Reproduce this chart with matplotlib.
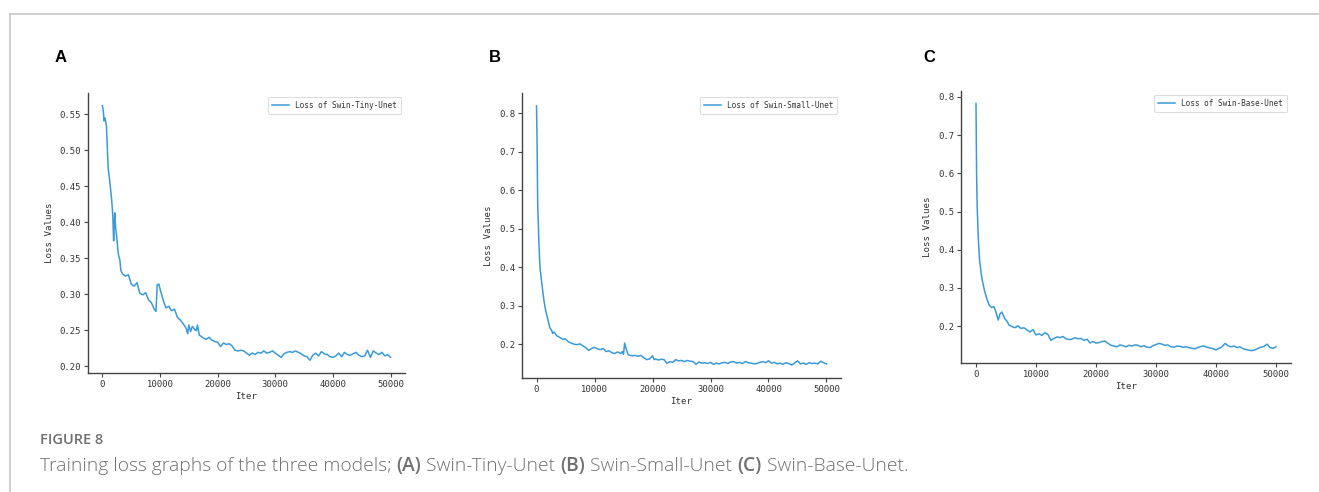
import matplotlib
matplotlib.use("Agg")
import matplotlib.pyplot as plt
from matplotlib.lines import Line2D

# ---------------- data ----------------
iters_a = [0, 150, 300, 450, 700, 1000, 1300, 1600, 1800, 1950, 2050, 2150, 2300, 2500, 2700, 2850,
           3000, 3200, 3500, 4000, 4500, 5000, 5500, 6000, 6500, 7000, 7500, 8000, 8500, 9000, 9300,
           9500, 9800, 10000, 10500, 11000, 11500, 12000, 12500, 13000, 13500, 14000, 14500, 14800,
           15000, 15300, 15600, 16000, 16300, 16500, 16800, 17000, 17500, 18000, 18500, 19000, 19500,
           20000, 20500, 21000, 21500, 22000, 22500, 23000, 23500, 24000, 24500, 25000, 25500, 26000,
           26500, 27000, 27500, 28000, 28500, 29000, 29500, 30000, 30500, 31000, 31500, 32000, 32500,
           33000, 33500, 34000, 34500, 35000, 35500, 36000, 36500, 37000, 37500, 38000, 38500, 39000,
           39500, 40000, 40500, 41000, 41500, 42000, 42500, 43000, 43500, 44000, 44500, 45000, 45500,
           46000, 46500, 47000, 47500, 48000, 48500, 49000, 49500, 50000]
loss_a = [0.562, 0.555, 0.541, 0.545, 0.534, 0.475, 0.455, 0.432, 0.410, 0.374, 0.395, 0.413, 0.392, 0.378, 0.360, 0.352,
          0.349, 0.333, 0.328, 0.325, 0.327, 0.314, 0.311, 0.316, 0.301, 0.299, 0.302, 0.292, 0.288, 0.279, 0.276,
          0.313, 0.314, 0.307, 0.293, 0.281, 0.283, 0.277, 0.279, 0.268, 0.264, 0.259, 0.253, 0.245,
          0.257, 0.248, 0.255, 0.251, 0.249, 0.257, 0.243, 0.242, 0.239, 0.237, 0.240, 0.236, 0.234,
          0.233, 0.227, 0.232, 0.230, 0.231, 0.228, 0.222, 0.221, 0.222, 0.221, 0.218, 0.215, 0.218,
          0.216, 0.219, 0.218, 0.221, 0.218, 0.219, 0.221, 0.218, 0.215, 0.212, 0.217, 0.219, 0.220,
          0.219, 0.221, 0.219, 0.217, 0.214, 0.213, 0.208, 0.215, 0.218, 0.214, 0.220, 0.217, 0.216,
          0.213, 0.212, 0.214, 0.218, 0.213, 0.219, 0.216, 0.215, 0.217, 0.219, 0.215, 0.213, 0.214,
          0.222, 0.212, 0.221, 0.218, 0.216, 0.219, 0.214, 0.216, 0.212]

iters_b = [0, 100, 200, 400, 600, 800, 1000, 1300, 1600, 2000, 2300, 2600, 2800, 3000, 3500, 4000, 4500,
           5000, 5500, 6000, 6500, 7000, 7500, 8000, 8500, 9000, 9500, 10000, 10500, 11000, 11500, 12000,
           12500, 13000, 13500, 14000, 14500, 14800, 15000, 15200, 15500, 15800, 16000, 16500, 17000, 17500,
           18000, 18500, 19000, 19500, 20000, 20300, 20500, 21000, 21500, 22000, 22500, 23000, 23500, 24000,
           24500, 25000, 25500, 26000, 26500, 27000, 27500, 28000, 28500, 29000, 29500, 30000, 30500, 31000,
           31500, 32000, 32500, 33000, 33500, 34000, 34500, 35000, 35500, 36000, 36500, 37000, 37500, 38000,
           38500, 39000, 39500, 40000, 40500, 41000, 41500, 42000, 42500, 43000, 43500, 44000, 44500, 45000,
           45500, 46000, 46500, 47000, 47500, 48000, 48500, 49000, 49500, 50000]
loss_b = [0.819, 0.727, 0.571, 0.468, 0.399, 0.373, 0.347, 0.312, 0.286, 0.262, 0.243, 0.236, 0.228, 0.232, 0.222, 0.218, 0.213,
          0.214, 0.206, 0.203, 0.200, 0.199, 0.201, 0.196, 0.191, 0.184, 0.189, 0.192, 0.188, 0.186, 0.189, 0.181,
          0.183, 0.178, 0.176, 0.180, 0.176, 0.181, 0.174, 0.203, 0.186, 0.173, 0.172, 0.170, 0.171, 0.169,
          0.171, 0.165, 0.160, 0.162, 0.170, 0.160, 0.162, 0.159, 0.161, 0.160, 0.150, 0.155, 0.153, 0.160,
          0.157, 0.158, 0.155, 0.158, 0.156, 0.155, 0.148, 0.154, 0.151, 0.152, 0.150, 0.153, 0.148, 0.151,
          0.149, 0.152, 0.153, 0.150, 0.154, 0.155, 0.151, 0.153, 0.150, 0.155, 0.152, 0.151, 0.149, 0.150,
          0.153, 0.155, 0.152, 0.157, 0.151, 0.153, 0.149, 0.151, 0.148, 0.152, 0.150, 0.146, 0.151, 0.157,
          0.149, 0.151, 0.148, 0.152, 0.150, 0.151, 0.149, 0.156, 0.152, 0.149]

iters_c = [0, 100, 200, 400, 600, 800, 1000, 1400, 1800, 2200, 2600, 3000, 3300, 3700, 4000, 4300, 4800,
           5200, 5500, 6000, 6500, 7000, 7500, 8000, 8500, 9000, 9500, 10000, 10500, 11000, 11500, 12000,
           12500, 13000, 13500, 14000, 14500, 15000, 15500, 16000, 16500, 17000, 17500, 18000, 18500, 19000,
           19500, 20000, 20500, 21000, 21500, 22000, 22500, 23000, 23500, 24000, 24500, 25000, 25500, 26000,
           26500, 27000, 27500, 28000, 28500, 29000, 29500, 30000, 30500, 31000, 31500, 32000, 32500, 33000,
           33500, 34000, 34500, 35000, 35500, 36000, 36500, 37000, 37500, 38000, 38500, 39000, 39500, 40000,
           40500, 41000, 41500, 42000, 42500, 43000, 43500, 44000, 44500, 45000, 45500, 46000, 46500, 47000,
           47500, 48000, 48500, 49000, 49500, 50000]
loss_c = [0.783, 0.598, 0.511, 0.424, 0.372, 0.346, 0.324, 0.294, 0.272, 0.255, 0.249, 0.251, 0.238, 0.216, 0.232, 0.237, 0.220,
          0.212, 0.203, 0.199, 0.196, 0.201, 0.194, 0.196, 0.190, 0.185, 0.191, 0.177, 0.180, 0.176, 0.183, 0.178,
          0.163, 0.168, 0.172, 0.170, 0.173, 0.167, 0.165, 0.166, 0.170, 0.167, 0.168, 0.163, 0.166, 0.156,
          0.160, 0.156, 0.157, 0.160, 0.161, 0.155, 0.150, 0.148, 0.146, 0.151, 0.149, 0.146, 0.150, 0.148,
          0.151, 0.150, 0.146, 0.149, 0.145, 0.144, 0.149, 0.152, 0.155, 0.153, 0.150, 0.151, 0.146, 0.145,
          0.148, 0.147, 0.145, 0.146, 0.144, 0.142, 0.141, 0.144, 0.147, 0.148, 0.145, 0.143, 0.141, 0.138,
          0.142, 0.146, 0.155, 0.149, 0.146, 0.148, 0.144, 0.146, 0.141, 0.139, 0.137, 0.136, 0.138, 0.142,
          0.145, 0.147, 0.153, 0.144, 0.142, 0.146]

panel_letters = ["A", "B", "C"]
legend_labels = ["Loss of Swin-Tiny-Unet", "Loss of Swin-Small-Unet", "Loss of Swin-Base-Unet"]
x_label = "Iter"
y_label = "Loss Values"
caption_title = "FIGURE 8"
caption_parts = [("Training loss graphs of the three models; ", "light"), ("(A)", "semibold"),
                 (" Swin-Tiny-Unet ", "light"), ("(B)", "semibold"), (" Swin-Small-Unet ", "light"),
                 ("(C)", "semibold"), (" Swin-Base-Unet.", "light")]

# ---------------- style ----------------
W, H = 1319, 492
fig = plt.figure(figsize=(W / 100, H / 100), dpi=100)
fig.patch.set_facecolor("white")

line_color = "#3a9ad9"
mono = ["DejaVu Sans Mono"]

# axes boxes in pixels: left, right, top, bottom
boxes = [(88, 405, 93, 373), (522, 841, 93, 378), (961, 1291, 91, 363)]
letter_pos = [(61, 57), (495, 57), (929, 57)]
series = [(iters_a, loss_a), (iters_b, loss_b), (iters_c, loss_c)]

for i, ((l, r, t, b), (xs, ys)) in enumerate(zip(boxes, series)):
    ax = fig.add_axes([l / W, 1 - b / H, (r - l) / W, (b - t) / H])
    ax.plot(xs, ys, color=line_color, lw=1.1, label=legend_labels[i])
    for s in ("top", "right"):
        ax.spines[s].set_visible(False)
    for s in ("left", "bottom"):
        ax.spines[s].set_color("#444444")
        ax.spines[s].set_linewidth(1.0)
    ax.tick_params(axis="both", labelsize=6.4, colors="#444444", labelcolor="#333333",
                   length=3, width=0.8, pad=2)
    ax.set_xticks([0, 10000, 20000, 30000, 40000, 50000])
    ax.set_xticklabels(["0", "10000", "20000", "30000", "40000", "50000"], family=mono)
    ax.set_xlabel(x_label, fontsize=6.6, family=mono, color="#333333", labelpad=2)
    ax.set_ylabel(y_label, fontsize=6.6, family=mono, color="#333333", labelpad=4)
    if i == 0:
        ax.yaxis.set_major_formatter(matplotlib.ticker.FormatStrFormatter("%.2f"))
    else:
        ax.yaxis.set_major_formatter(matplotlib.ticker.FormatStrFormatter("%.1f"))
    for lab in ax.get_yticklabels():
        lab.set_family(mono)
    leg = ax.legend(loc="upper right", prop={"family": mono, "size": 5.6}, frameon=True,
                    handlelength=2.2, borderpad=0.5, fancybox=True, framealpha=1)
    leg.get_frame().set_edgecolor("#dddddd")
    leg.get_frame().set_linewidth(0.8)
    for txt in leg.get_texts():
        txt.set_color("#333333")
    fig.text(letter_pos[i][0] / W, 1 - letter_pos[i][1] / H, panel_letters[i], fontsize=12,
             fontweight="bold", family="Liberation Sans", ha="center", va="center", color="black")

# page border lines
fig.add_artist(Line2D([10 / W, 1], [1 - 13.5 / H, 1 - 13.5 / H], color="#c8c8c8", lw=1.2,
                      transform=fig.transFigure))
fig.add_artist(Line2D([10 / W, 10 / W], [0, 1 - 13.5 / H], color="#c8c8c8", lw=1.2,
                      transform=fig.transFigure))

# caption
fig.text(40 / W, 1 - 440 / H, caption_title, fontsize=10.5, family="Open Sans", fontweight="semibold",
         color="#6e6e6e", ha="left", va="center")
fig.canvas.draw()
renderer = fig.canvas.get_renderer()
x = 40
for txt, wt in caption_parts:
    t = fig.text(x / W, 1 - 466 / H, txt, fontsize=13.9, family="Open Sans", fontweight=wt,
                 color="#707070", ha="left", va="center")
    bb = t.get_window_extent(renderer=renderer)
    x += bb.width

fig.savefig("out.png", dpi=100, facecolor="white")
